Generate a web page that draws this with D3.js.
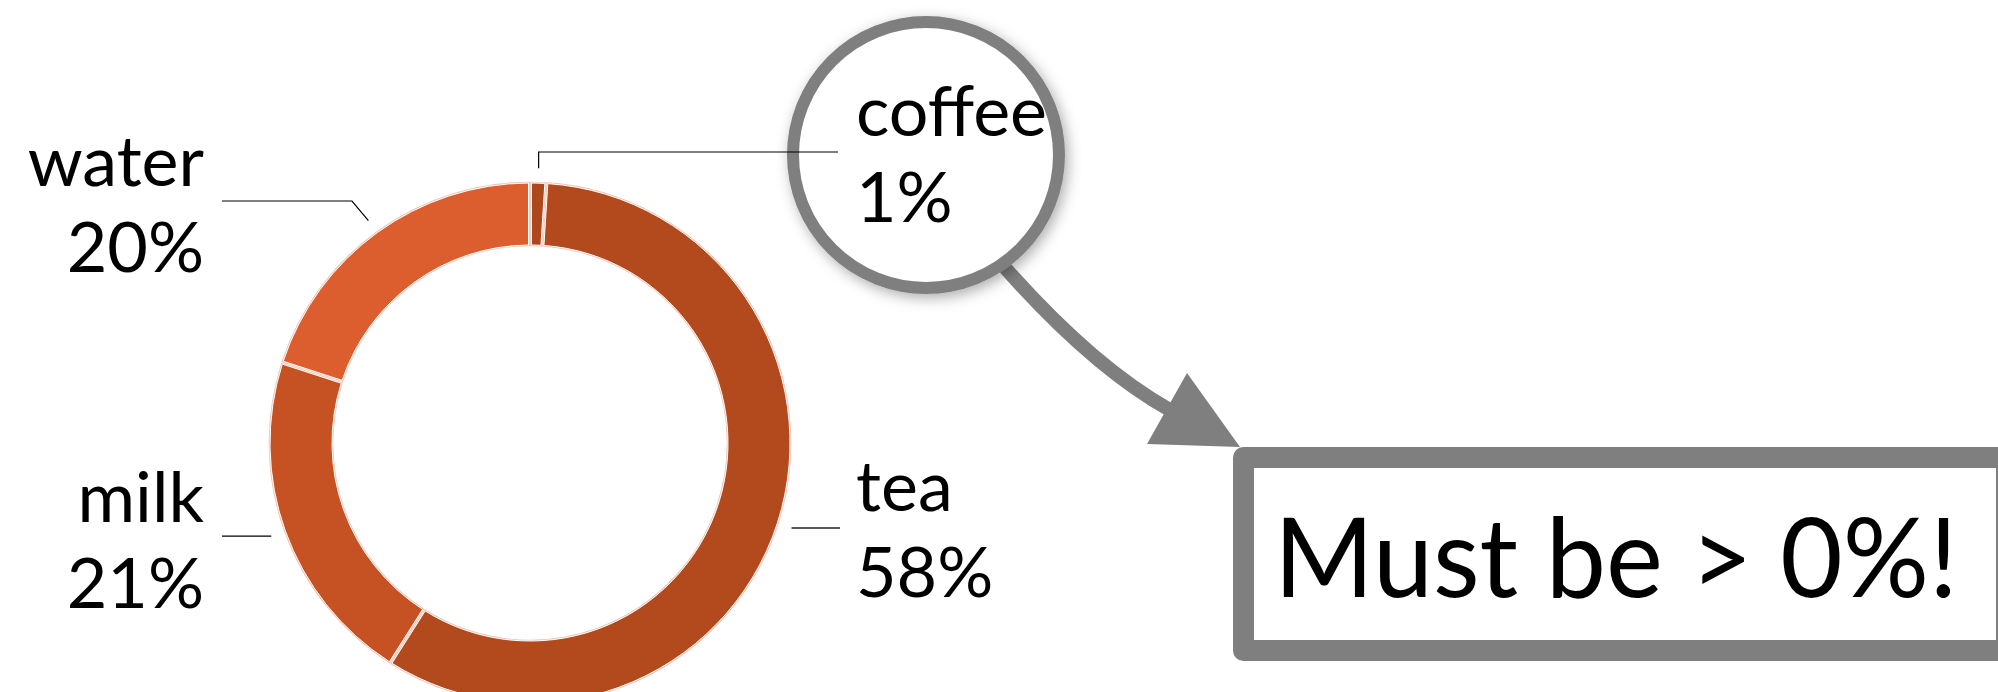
<!DOCTYPE html>
<html>
<head>
<meta charset="utf-8">
<script src="https://cdn.jsdelivr.net/npm/d3@7"></script>
<style>
  html, body { margin: 0; padding: 0; background: #ffffff; overflow: hidden; }
  svg { display: block; }
</style>
</head>
<body>
<svg id="chart" width="1998" height="692"></svg>
<script>
// Drink shares, clockwise from 12 o'clock
const categories = ["coffee", "tea", "milk", "water"];
const shares = [1, 58, 21, 20];
const sliceColors = ["#ad471c", "#b34a1e", "#c65224", "#dc5e2f"];
const calloutText = "Must be > 0%!";

const W = 1998, H = 692;
const svg = d3.select("#chart");
const FONT = "Lato, 'Open Sans', 'Noto Sans', sans-serif";

// Donut geometry
const cx = 530, cy = 443;
const rOuter = 260, rInner = 198, rLeader = 275;

const rows = categories.map((name, i) => ({ name, value: shares[i], color: sliceColors[i] }));
const pie = d3.pie().sort(null).value(d => d.value);
const arcs = pie(rows);
const arc = d3.arc()
  .innerRadius(rInner)
  .outerRadius(rOuter)
  .padAngle(3 / rOuter)
  .padRadius(rOuter);

// Magnifier handle ending in an arrow
const handle = svg.append("g").attr("class", "magnifier-handle");
handle.append("path")
  .attr("d", "M1000,262 Q1091,366 1170,410")
  .attr("fill", "none")
  .attr("stroke", "#7f7f7f")
  .attr("stroke-width", 14);
handle.append("path")
  .attr("d", "M1240,447 L1187,373 L1147,444 Z")
  .attr("fill", "#7f7f7f");

// Soft shadow for the magnifier lens
const defs = svg.append("defs");
const f = defs.append("filter")
  .attr("id", "lensShadow")
  .attr("x", "-20%").attr("y", "-20%")
  .attr("width", "140%").attr("height", "140%");
f.append("feDropShadow")
  .attr("dx", 3).attr("dy", 4)
  .attr("stdDeviation", 7)
  .attr("flood-color", "#000000")
  .attr("flood-opacity", 0.32);

svg.append("circle")
  .attr("cx", 926).attr("cy", 155).attr("r", 133)
  .attr("fill", "#ffffff")
  .attr("stroke", "#7f7f7f")
  .attr("stroke-width", 12)
  .attr("filter", "url(#lensShadow)");

// Donut slices: pale rim underneath, fill with a white edge on top
const ring = svg.append("g").attr("transform", `translate(${cx},${cy})`);
ring.selectAll("path.rim")
  .data(arcs)
  .join("path")
  .attr("class", "rim")
  .attr("d", arc)
  .attr("fill", "none")
  .attr("stroke", "#f0c2b0")
  .attr("stroke-width", 2.6);
ring.selectAll("path.slice")
  .data(arcs)
  .join("path")
  .attr("class", "slice")
  .attr("d", arc)
  .attr("fill", d => d.data.color)
  .attr("stroke", "#ffffff")
  .attr("stroke-width", 1);

// Leader lines start on a circle just outside the ring at each slice's middle angle
function leaderStart(d) {
  const a = (d.startAngle + d.endAngle) / 2;
  return [cx + rLeader * Math.sin(a), cy - rLeader * Math.cos(a)];
}

// Label placement for each category
const labelSpots = {
  coffee: { x: 856, y: 136, anchor: "start", route: (s) => [s, [s[0], 152], [838, 152]], stroke: "#000000", sw: 1.2 },
  tea:    { x: 856, y: 511, anchor: "start", route: (s) => [s, [840, s[1]]], stroke: "#595959", sw: 2 },
  milk:   { x: 204, y: 522, anchor: "end",   route: (s) => [s, [222, s[1]]], stroke: "#000000", sw: 1.2 },
  water:  { x: 204, y: 186, anchor: "end",   route: (s) => [s, [352, 201], [222, 201]], stroke: "#000000", sw: 1.2 }
};

const line = d3.line();
const labels = svg.append("g").attr("class", "labels");
arcs.forEach(d => {
  const spot = labelSpots[d.data.name];
  labels.append("path")
    .attr("d", line(spot.route(leaderStart(d))))
    .attr("fill", "none")
    .attr("stroke", spot.stroke)
    .attr("stroke-width", spot.sw);
  const t = labels.append("text")
    .attr("x", spot.x)
    .attr("y", spot.y)
    .attr("text-anchor", spot.anchor)
    .attr("font-family", FONT)
    .attr("font-size", 70)
    .attr("fill", "#000000");
  t.append("tspan").attr("x", spot.x).text(d.data.name);
  t.append("tspan").attr("x", spot.x).attr("dy", 86).text(d.data.value + "%");
});

// Callout box
svg.append("rect")
  .attr("x", 1243.5).attr("y", 457.5)
  .attr("width", 763).attr("height", 193)
  .attr("fill", "#ffffff")
  .attr("stroke", "#7f7f7f")
  .attr("stroke-width", 21)
  .attr("stroke-linejoin", "round");
svg.append("text")
  .attr("x", 1274).attr("y", 597)
  .attr("font-family", FONT)
  .attr("font-size", 111)
  .attr("textLength", 684)
  .attr("lengthAdjust", "spacingAndGlyphs")
  .attr("fill", "#000000")
  .text(calloutText);
</script>
</body>
</html>
